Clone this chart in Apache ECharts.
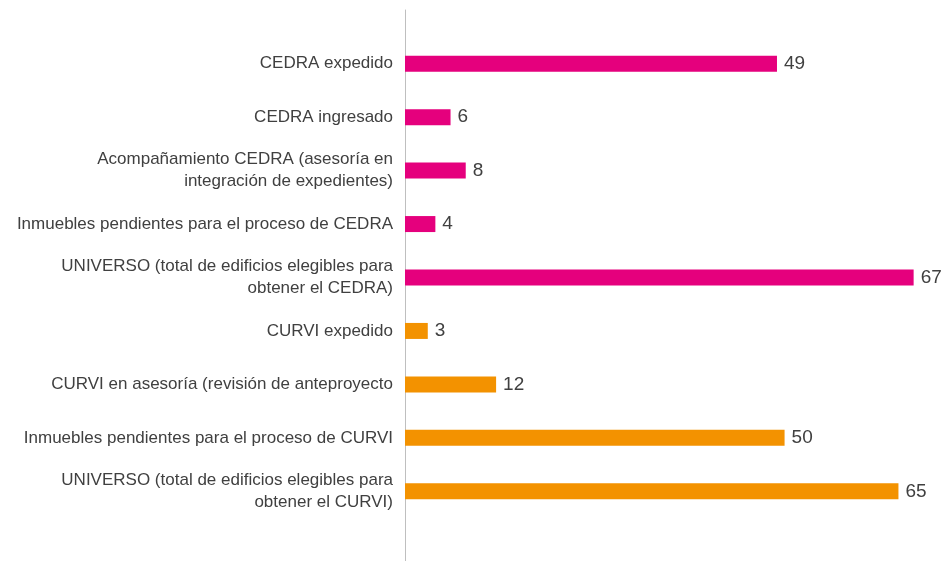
<!DOCTYPE html>
<html>
<head>
<meta charset="utf-8">
<script src="https://cdn.jsdelivr.net/npm/echarts@6/dist/echarts.min.js"></script>
<style>
  html, body { margin: 0; padding: 0; background: #fff; }
  #chart { width: 946px; height: 561px; }
</style>
</head>
<body>
<div id="chart"></div>
<script>
// categorias de arriba hacia abajo
const categories = [
  "CEDRA expedido",
  "CEDRA ingresado",
  "Acompañamiento CEDRA (asesoría en\nintegración de expedientes)",
  "Inmuebles pendientes para el proceso de CEDRA",
  "UNIVERSO (total de edificios elegibles para\nobtener el CEDRA)",
  "CURVI expedido",
  "CURVI en asesoría (revisión de anteproyecto",
  "Inmuebles pendientes para el proceso de CURVI",
  "UNIVERSO (total de edificios elegibles para\nobtener el CURVI)"
];
const values = [49, 6, 8, 4, 67, 3, 12, 50, 65];
const groups = ["CEDRA", "CEDRA", "CEDRA", "CEDRA", "CEDRA", "CURVI", "CURVI", "CURVI", "CURVI"];
const groupColors = { CEDRA: "#E5007D", CURVI: "#F39200" };

const chart = echarts.init(document.getElementById("chart"));

const option = {
  animation: false,
  textStyle: { fontFamily: "Liberation Sans, Arial, sans-serif" },
  grid: [
    { left: 405, top: 37, height: 481, right: 2 },
    // solo para la linea vertical larga del eje
    { left: 405, top: 10, bottom: 0, right: 2 }
  ],
  xAxis: [
    { type: "value", gridIndex: 0, min: 0, max: 71, show: false },
    { type: "value", gridIndex: 1, min: 0, max: 1, show: false }
  ],
  yAxis: [
    {
      type: "category",
      gridIndex: 0,
      data: categories,
      inverse: true,
      axisLine: { show: false },
      axisTick: { show: false },
      axisLabel: {
        color: "#404040",
        fontSize: 17,
        lineHeight: 22,
        margin: 12,
        align: "right"
      }
    },
    {
      type: "value",
      gridIndex: 1,
      min: 0,
      max: 1,
      axisLine: { show: true, lineStyle: { color: "#BFBFBF", width: 1 } },
      axisTick: { show: false },
      axisLabel: { show: false },
      splitLine: { show: false }
    }
  ],
  series: [
    {
      type: "bar",
      xAxisIndex: 0,
      yAxisIndex: 0,
      barWidth: 16,
      data: values.map((v, i) => ({
        value: v,
        itemStyle: { color: groupColors[groups[i]] }
      })),
      label: {
        show: true,
        position: "right",
        distance: 7,
        color: "#404040",
        fontSize: 19
      }
    }
  ]
};

chart.setOption(option);
</script>
</body>
</html>
